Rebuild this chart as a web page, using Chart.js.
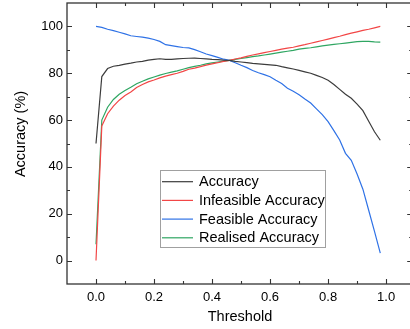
<!DOCTYPE html>
<html lang="en">
<head>
    <meta charset="UTF-8">
    <title>Accuracy vs Threshold</title>
    <script src="https://cdn.jsdelivr.net/npm/chart.js"></script>
    <style>
        body {
            margin: 0;
            background: #ffffff;
            overflow: hidden;
        }
        .wrap {
            position: relative;
            width: 410px;
            height: 329px;
            overflow: hidden;
        }
        canvas {
            display: block;
        }
    </style>
</head>
<body>
<div class="wrap">
    <canvas id="grafico" width="416" height="329"></canvas>
</div>

<script>
    // Datos
    const thresholds = [0, 0.02, 0.04, 0.06, 0.08, 0.10, 0.12, 0.14, 0.16, 0.18,
        0.20, 0.22, 0.24, 0.26, 0.28, 0.30, 0.32, 0.34, 0.36, 0.38,
        0.40, 0.42, 0.44, 0.46, 0.48, 0.50, 0.52, 0.54, 0.56, 0.58,
        0.60, 0.62, 0.64, 0.66, 0.68, 0.70, 0.72, 0.74, 0.76, 0.78,
        0.80, 0.82, 0.84, 0.86, 0.88, 0.90, 0.92, 0.94, 0.96, 0.98];

    const accuracy = [50, 78.6, 82, 83, 83.4, 83.9, 84.3, 84.8, 85.1, 85.6,
        85.9, 86.2, 85.9, 85.9, 86.1, 86.3, 86.4, 86.5, 86.3, 86.1,
        85.9, 85.8, 85.6, 85.5, 85.1, 84.8, 84.5, 84.2, 84.0, 83.8,
        83.6, 83.4, 82.8, 82.3, 81.8, 81.2, 80.6, 80.0, 79.1, 78.2,
        77.0, 75.2, 73.1, 71.0, 69.3, 66.8, 64.0, 59.5, 55.0, 51.4];

    const infeasible = [0, 57.5, 62.7, 66.0, 68.5, 70.5, 72.0, 73.9, 75.2, 76.3,
        77.1, 78.0, 78.8, 79.4, 80.0, 80.8, 81.7, 82.2, 82.8, 83.5,
        84.0, 84.5, 85.1, 85.5, 86.1, 86.6, 87.2, 87.8, 88.3, 88.8,
        89.3, 89.8, 90.3, 90.7, 91.1, 91.7, 92.2, 92.8, 93.4, 94.0,
        94.6, 95.2, 95.8, 96.5, 97.1, 97.7, 98.3, 98.8, 99.4, 100];

    const feasible = [100, 99.6, 98.8, 98.2, 97.5, 96.8, 96.0, 95.7, 95.4, 95.0,
        94.4, 93.6, 92.2, 91.8, 91.4, 91.0, 90.8, 90.1, 89.2, 88.2,
        87.5, 86.8, 86.0, 85.5, 84.5, 83.4, 82.4, 81.2, 80.2, 79.4,
        78.5, 77.0, 75.6, 73.6, 72.3, 70.8, 69.0, 67.3, 64.8, 62.3,
        59.3, 55.5, 51.5, 45.8, 42.8, 37.0, 30.5, 21.5, 12.5, 3.2];

    const realised = [7, 60, 65.5, 68.8, 71.0, 72.6, 74.0, 75.5, 76.6, 77.6,
        78.4, 79.2, 79.9, 80.5, 81.0, 81.7, 82.4, 82.9, 83.4, 84.0,
        84.4, 84.8, 85.2, 85.5, 85.9, 86.3, 86.7, 87.1, 87.4, 87.8,
        88.2, 88.6, 89.0, 89.4, 89.8, 90.3, 90.6, 90.9, 91.3, 91.7,
        92.0, 92.3, 92.6, 92.9, 93.2, 93.5, 93.6, 93.6, 93.4, 93.3];

    const seriesNames = ['Accuracy', 'Infeasible Accuracy', 'Feasible Accuracy', 'Realised Accuracy'];
    const xTicks = [0, 0.2, 0.4, 0.6, 0.8, 1.0];
    const xMinor = [0.1, 0.3, 0.5, 0.7, 0.9];
    const yTicks = [0, 20, 40, 60, 80, 100];
    const yMinor = [10, 30, 50, 70, 90];

    const colores = ['#3c3c3c', '#f24646', '#2f72e6', '#2fa662'];
    const fuente = '"Liberation Sans", Arial, sans-serif';

    function toPoints(values) {
        return values.map((v, i) => ({ x: thresholds[i], y: v }));
    }

    // Marco, marcas interiores, leyenda y títulos de ejes
    const decoraciones = {
        id: 'decoraciones',
        afterDraw(chart) {
            const ctx = chart.ctx;
            const a = chart.chartArea;
            const x = chart.scales.x;
            const y = chart.scales.y;
            ctx.save();
            ctx.strokeStyle = '#333333';
            ctx.lineWidth = 1.3;
            ctx.strokeRect(a.left, a.top, a.right - a.left, a.bottom - a.top);

            ctx.lineWidth = 1.1;
            ctx.beginPath();
            const marcaX = (v, len) => {
                const px = Math.round(x.getPixelForValue(v)) + 0.5;
                ctx.moveTo(px, a.bottom); ctx.lineTo(px, a.bottom - len);
                ctx.moveTo(px, a.top); ctx.lineTo(px, a.top + len);
            };
            const marcaY = (v, len) => {
                const py = Math.round(y.getPixelForValue(v)) + 0.5;
                ctx.moveTo(a.left, py); ctx.lineTo(a.left + len, py);
                ctx.moveTo(a.right, py); ctx.lineTo(a.right - len, py);
            };
            xTicks.forEach(v => marcaX(v, 5));
            xMinor.forEach(v => marcaX(v, 3));
            yTicks.forEach(v => marcaY(v, 5));
            yMinor.forEach(v => marcaY(v, 3));
            ctx.stroke();

            // Leyenda
            const lx = 160, ly = 170, lw = 165, lh = 77;
            ctx.fillStyle = '#ffffff';
            ctx.fillRect(lx, ly, lw, lh);
            ctx.strokeStyle = '#a0a0a0';
            ctx.lineWidth = 1;
            ctx.strokeRect(lx + 0.5, ly + 0.5, lw, lh);
            ctx.font = '14.5px ' + fuente;
            ctx.textBaseline = 'middle';
            ctx.textAlign = 'left';
            chart.data.datasets.forEach((ds, i) => {
                const cy = 181.7 + i * 18.7;
                ctx.strokeStyle = ds.borderColor;
                ctx.lineWidth = 1.2;
                ctx.beginPath();
                ctx.moveTo(162, cy);
                ctx.lineTo(193, cy);
                ctx.stroke();
                ctx.fillStyle = '#000000';
                ctx.fillText(ds.label, 199, cy + 0.5);
            });

            // Títulos
            ctx.fillStyle = '#000000';
            ctx.font = '14.5px ' + fuente;
            ctx.textAlign = 'center';
            ctx.textBaseline = 'middle';
            ctx.fillText('Threshold', 240, 317);
            ctx.translate(21, 134);
            ctx.rotate(-Math.PI / 2);
            ctx.fillText('Accuracy (%)', 0, 0);
            ctx.restore();
        }
    };

    const ctxLineal = document.getElementById('grafico').getContext('2d');
    new Chart(ctxLineal, {
        type: 'line',
        data: {
            datasets: [accuracy, infeasible, feasible, realised].map((serie, i) => ({
                label: seriesNames[i],
                data: toPoints(serie),
                borderColor: colores[i],
                borderWidth: 1.2,
                pointRadius: 0,
                fill: false,
                tension: 0
            }))
        },
        options: {
            responsive: false,
            devicePixelRatio: 1,
            animation: false,
            layout: { padding: { top: 3, right: 3.8, left: 0, bottom: 0 } },
            plugins: {
                legend: { display: false },
                tooltip: { enabled: false }
            },
            scales: {
                x: {
                    type: 'linear',
                    min: -0.1,
                    max: 1.09,
                    afterBuildTicks: s => { s.ticks = xTicks.map(v => ({ value: v })); },
                    afterFit: s => {
                        s.height = 45;
                        s.paddingLeft = 0;
                        s.paddingRight = 0;
                    },
                    grid: { display: false, drawTicks: false },
                    border: { display: false },
                    ticks: {
                        callback: v => v.toFixed(1),
                        color: '#000000',
                        font: { family: fuente, size: 13 },
                        padding: 6,
                        maxRotation: 0,
                        autoSkip: false
                    }
                },
                y: {
                    min: -10,
                    max: 110,
                    afterBuildTicks: s => { s.ticks = yTicks.map(v => ({ value: v })); },
                    afterFit: s => {
                        s.width = 67;
                        s.paddingTop = 0;
                        s.paddingBottom = 0;
                    },
                    grid: { display: false, drawTicks: false },
                    border: { display: false },
                    ticks: {
                        color: '#000000',
                        font: { family: fuente, size: 13 },
                        padding: 4
                    }
                }
            }
        },
        plugins: [decoraciones]
    });
</script>
</body>
</html>
